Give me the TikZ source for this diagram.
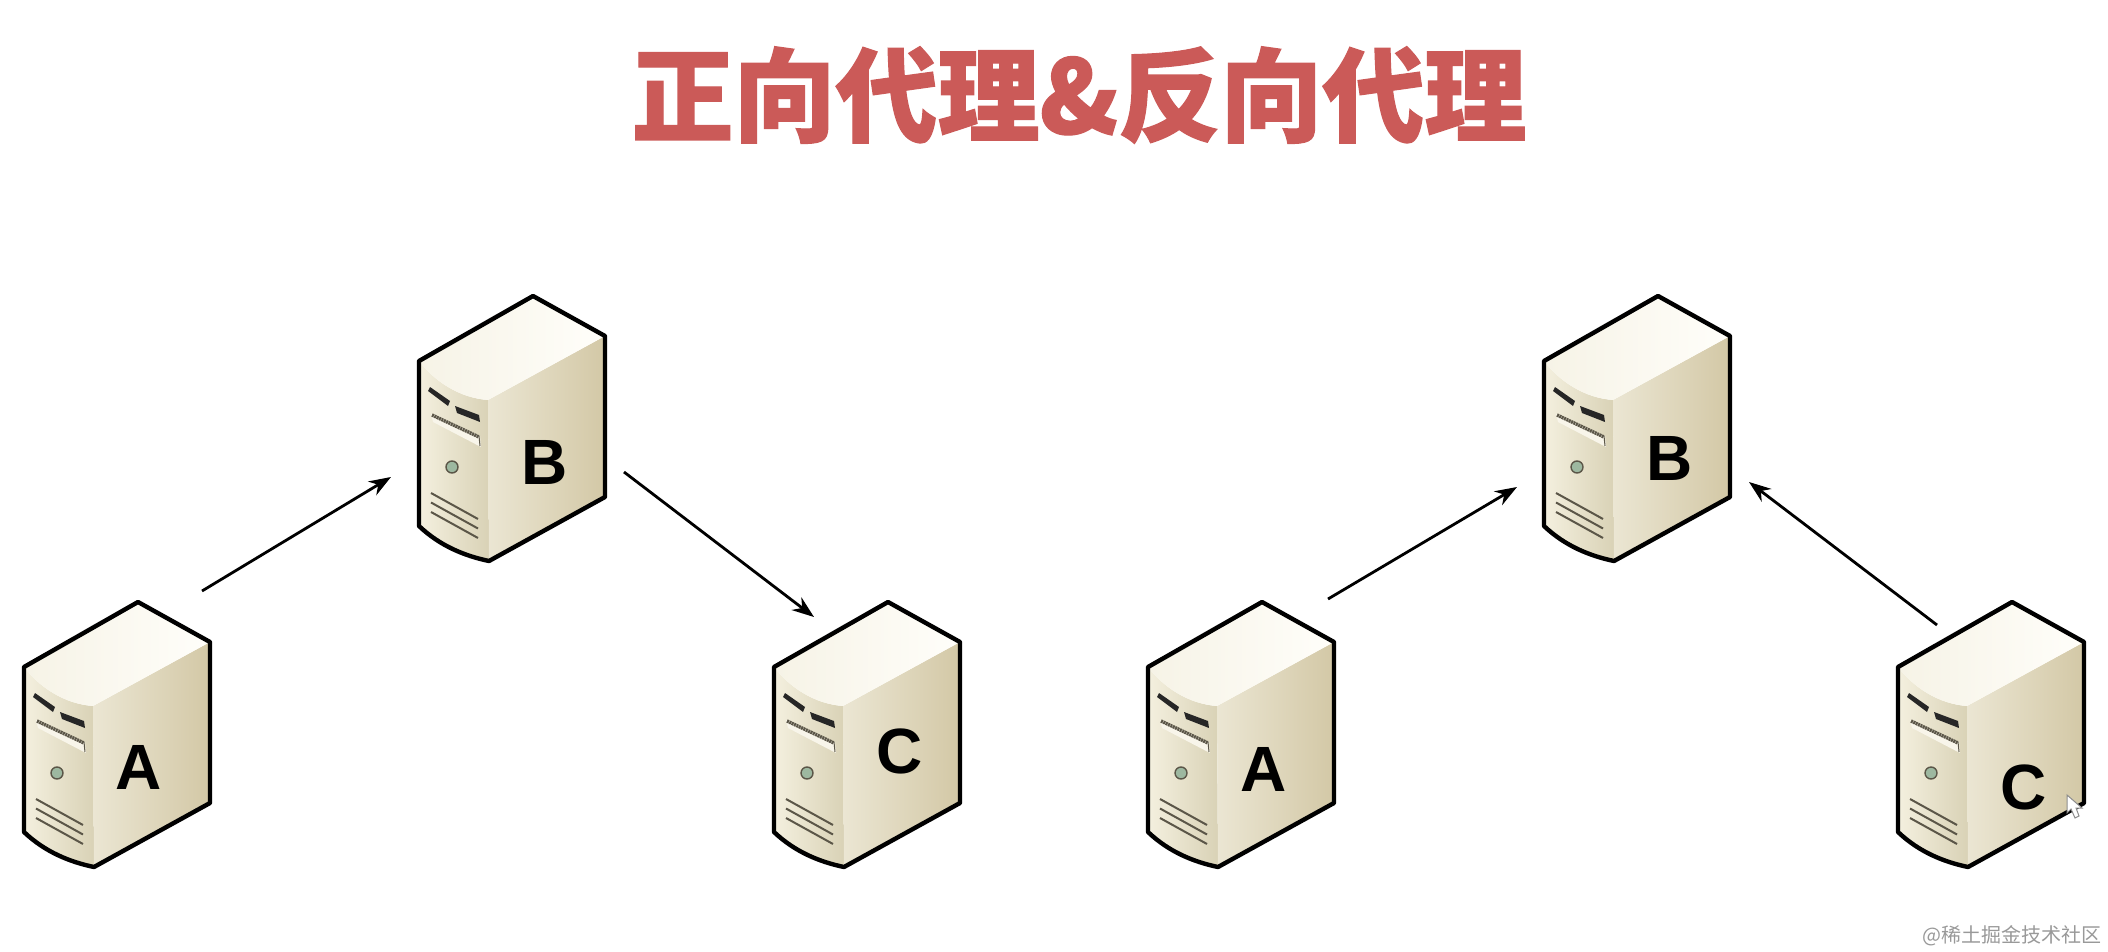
\documentclass[tikz,border=0pt]{standalone}
\usepackage{fontspec}
\usetikzlibrary{arrows.meta}
\setmainfont{Liberation Sans}
\newfontfamily\cjk[BoldFeatures={FakeBold=1.2}]{Noto Sans CJK SC}
\newfontfamily\cjkmark{Noto Sans CJK SC}
\definecolor{titlered}{HTML}{CB5A58}
\definecolor{vent}{HTML}{5B5648}
\definecolor{frontl}{HTML}{F4F0DF}
\definecolor{frontr}{HTML}{D9D2B6}
\definecolor{sidel}{HTML}{EBE6D3}
\definecolor{sidem}{HTML}{CFC39C}
\definecolor{sider}{HTML}{D3C8A6}
\definecolor{topl}{HTML}{F6F3E6}
\definecolor{topr}{HTML}{FFFEFA}
\definecolor{ledc}{HTML}{9DB8A0}
\definecolor{tray}{HTML}{F8F5EA}
\tikzset{
  letter/.style={font=\bfseries\fontsize{32}{32}\selectfont,text=black,inner sep=0pt},
  link/.style={line width=1.4pt,-{Stealth[length=11pt,width=8pt]}},
  outline/.style={line width=2.2pt,line join=round}
}
\newcommand{\serverbox}[2]{
\begin{scope}[shift={(#1,#2)}]
\path[left color=frontl,right color=frontr] (24,87) -- (24,252) .. controls (45,272) and (70,282) .. (94,287) -- (93,126) .. controls (65,124) and (40,108) .. (24,87) -- cycle;
\path[left color=sidel,middle color=sidem,right color=sider] (93,126) -- (94,287) -- (210,223) -- (210,62) -- cycle;
\path[left color=topl,right color=topr] (24,87) -- (138,22) -- (210,62) -- (93,126) .. controls (65,124) and (40,108) .. (24,87) -- cycle;
\fill[black!85] (33,117) -- (35,113) -- (55,127) -- (53,132) -- cycle;
\fill[black!85] (60,132) -- (84,141) -- (85,148) -- (62,139) -- cycle;
\fill[tray] (36,140) -- (85,162) -- (86,173) -- (38,148) -- cycle;
\draw[vent,line width=1.7pt,dash pattern=on 1pt off 0.3pt] (37,141) -- (84,163);
\draw[vent,line width=.5pt] (84,162) -- (85,172);
\draw[vent,fill=ledc,line width=.7pt] (57,193) circle (6);
\foreach \y in {0,9.5,19}
    \draw[vent,line width=1pt] (36,219+\y) -- (83,245+\y);
\draw[outline] (24,87) -- (138,22) -- (210,62) -- (210,223) -- (94,287) .. controls (70,282) and (45,272) .. (24,252) -- cycle;
\end{scope}
}
\begin{document}
\begin{tikzpicture}[x=0.5pt,y=-0.5pt]
\useasboundingbox (0,0) rectangle (2108,952);
\node[text=titlered,font=\cjk\bfseries\fontsize{51}{51}\selectfont,inner sep=0pt] (title) at (1079,95) {正向代理\&反向代理};
\serverbox{0}{580}
\serverbox{395}{274}
\serverbox{750}{580}
\serverbox{1124}{580}
\serverbox{1520}{274}
\serverbox{1874}{580}
\node[letter] (A1) at (139,767) {A};
\node[letter] (B1) at (545,462) {B};
\node[letter] (C1) at (900,751) {C};
\node[letter] (A2) at (1264,769) {A};
\node[letter] (B2) at (1670,458) {B};
\node[letter] (C2) at (2024,787) {C};
\coordinate (a1) at (202,591);
\coordinate (b1in) at (391,477);
\coordinate (b1out) at (624,472);
\coordinate (c1) at (814,617);
\coordinate (a2) at (1328,599);
\coordinate (b2a) at (1517,487);
\coordinate (c2) at (1937,625);
\coordinate (b2c) at (1749,482);
\draw[link] (a1) -- (b1in);
\draw[link] (b1out) -- (c1);
\draw[link] (a2) -- (b2a);
\draw[link] (c2) -- (b2c);
\draw[fill=white,draw=black!45,line width=.5pt] (2067,795) -- (2067,813) -- (2071,809) -- (2075,818) -- (2079,816) -- (2076,808) -- (2082,808) -- cycle;
\node[text=black!40,font=\cjkmark\fontsize{10}{10}\selectfont,anchor=east,inner sep=0pt] (mark) at (2102,936) {@稀土掘金技术社区};
\end{tikzpicture}
\end{document}
